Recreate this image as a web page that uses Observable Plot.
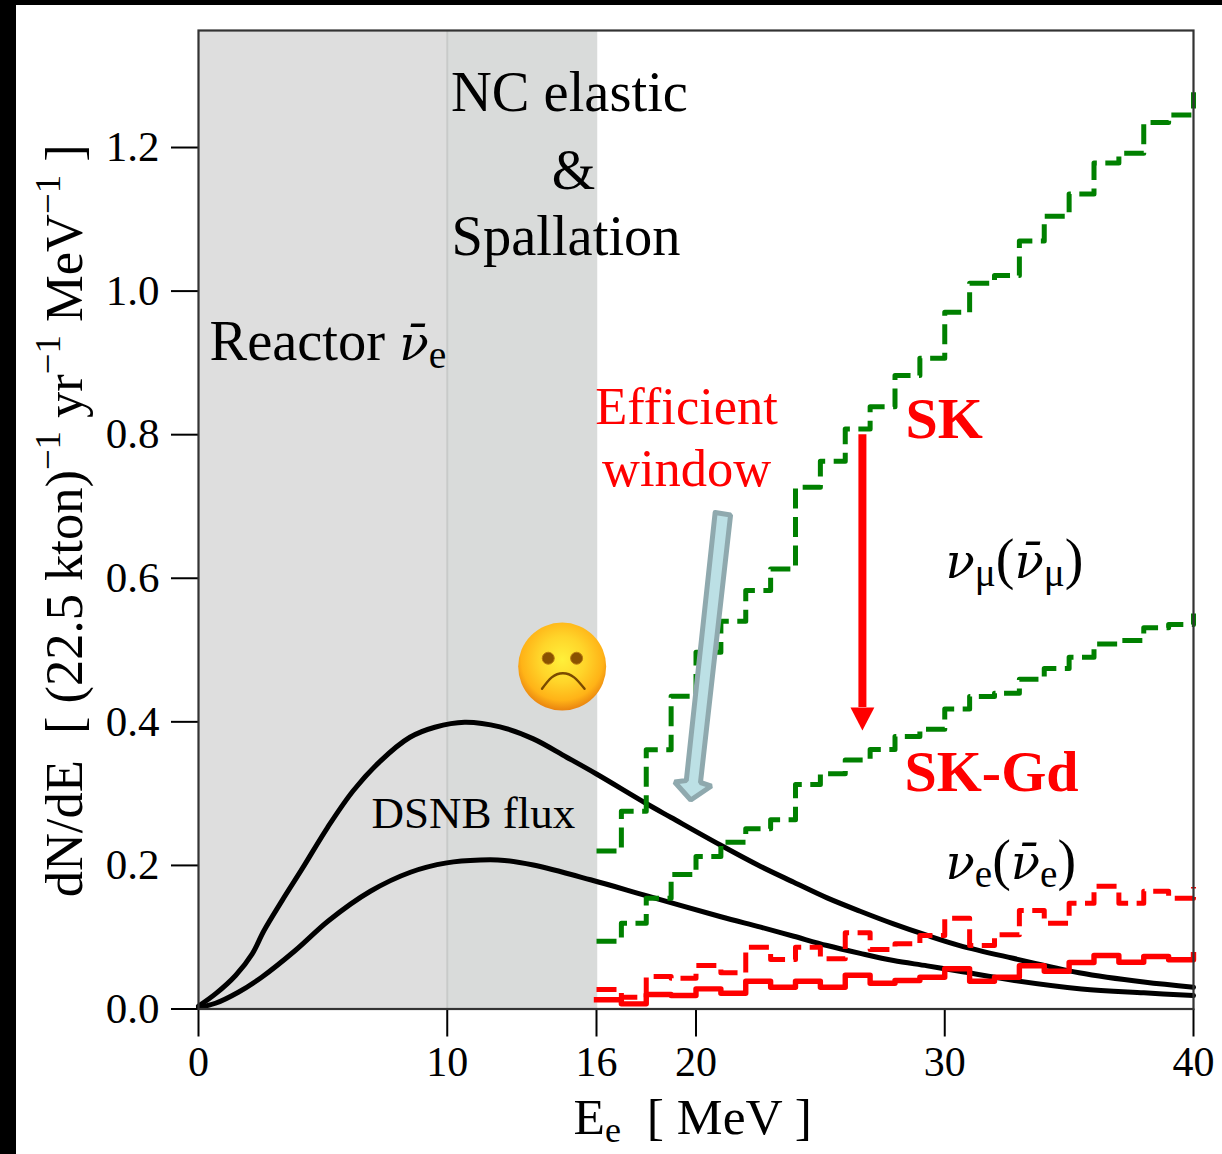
<!DOCTYPE html>
<html>
<head>
<meta charset="utf-8">
<script src="https://cdn.jsdelivr.net/npm/d3@7"></script>
<script src="https://cdn.jsdelivr.net/npm/@observablehq/plot@0.6"></script>
<style>
html,body{margin:0;padding:0;background:#000;}
#wrap{position:absolute;left:16px;top:5px;width:1206px;height:1149px;background:#fff;overflow:hidden;}
svg{display:block;}
</style>
</head>
<body>
<div id="wrap"></div>
<script>
// Bin edges in MeV (1 MeV bins from 16 to 40)
const edges = d3.range(16, 41);
// Event spectra per bin; the last entry is the value just past the final edge
const numuSK = [0.220,0.2755,0.361,0.4357,0.497,0.540,0.583,0.613,0.7268,0.763,0.808,0.839,0.8823,0.9065,0.9705,1.0109,1.0216,1.0699,1.1042,1.1354,1.1786,1.192,1.2347,1.2454,1.277];
const numuGd = [0.0944,0.1195,0.1543,0.1873,0.2124,0.2323,0.2510,0.2635,0.3127,0.3276,0.347,0.3614,0.3795,0.3897,0.418,0.4352,0.4398,0.4594,0.4742,0.49,0.5086,0.5132,0.531,0.5355,0.551];
const nueSK = [0.0272,0.0165,0.0453,0.043,0.0606,0.0504,0.0861,0.0689,0.0861,0.0699,0.1061,0.0829,0.0908,0.1024,0.1265,0.0884,0.1033,0.1372,0.1195,0.1474,0.171,0.1474,0.164,0.1543,0.17];
const nueGd = [0.0128,0.0072,0.0202,0.0188,0.0281,0.022,0.0387,0.0304,0.0387,0.0304,0.0471,0.0359,0.0397,0.0443,0.056,0.0387,0.0443,0.0602,0.0526,0.0648,0.0745,0.0652,0.0731,0.0685,0.0755];

// DSNB flux curves
const fluxHighX = [0,0.68,1.49,2.16,2.63,3.36,4.17,5.2,6.22,7.3,8.5,9.5,10.7,12.12,13.46,14.8,16,18,19,21,22.6,23.93,25.27,26.6,27.94,29.3,30.6,32.7,35.4,38,40];
const fluxHighY = [0.004,0.021,0.0467,0.0769,0.109,0.151,0.1955,0.2535,0.304,0.345,0.3785,0.3925,0.3995,0.393,0.3763,0.3507,0.3273,0.2862,0.2667,0.228,0.1985,0.1766,0.1548,0.1362,0.1186,0.1024,0.0884,0.071,0.0505,0.0375,0.0304];
const fluxLowX = [0,0.68,1.6,2.54,3.89,5.24,6.91,8.52,9.98,11.33,12.3,13.46,15.76,18,21,22.6,23.93,25.27,26.6,27.94,29.3,30.6,32.8,35.5,38,40];
const fluxLowY = [0.002,0.008,0.0234,0.0443,0.0815,0.1233,0.164,0.1905,0.2035,0.2075,0.207,0.2005,0.18,0.158,0.1285,0.114,0.1013,0.0884,0.0775,0.0675,0.0601,0.0525,0.0397,0.028,0.0225,0.0188];

// Axis ticks
const xTicks = [0,10,16,20,30,40];
const yTicks = [0,0.2,0.4,0.6,0.8,1.0,1.2];

// Annotations (markup: {i|italic} {sub|subscript} {sup|superscript})
const labels = [
  {t:"NC elastic", x:10.15, y:1.2514, s:56.5, c:"#000"},
  {t:"&", x:15.08, y:1.142, s:56, c:"#000", a:"middle"},
  {t:"Spallation", x:10.17, y:1.0505, s:56.5, c:"#000"},
  {t:"Reactor {i|ν\u0304}{sub|e}", x:0.44, y:0.9034, s:56.5, c:"#000"},
  {t:"DSNB flux", x:6.95, y:0.2516, s:45, c:"#000"},
  {t:"Efficient", x:19.62, y:0.815, s:52.5, c:"#f00", a:"middle"},
  {t:"window", x:19.62, y:0.728, s:52.5, c:"#f00", a:"middle"},
  {t:"SK", x:28.42, y:0.796, s:58, c:"#f00", w:"bold"},
  {t:"SK-Gd", x:28.38, y:0.304, s:58, c:"#f00", w:"bold"},
  {t:"{i|ν}{sub|μ}({i|ν\u0304}{sub|μ})", x:30.03, y:0.6, s:56, c:"#000"},
  {t:"{i|ν}{sub|e}({i|ν\u0304}{sub|e})", x:30.03, y:0.1812, s:56, c:"#000"},
  {t:"E{sub|e}  [ MeV ]", x:15.08, y:-0.1746, s:51.5, c:"#000"}
];
const yLabel = "dN/dE  [ (22.5 kton){sup|−1} yr{sup|−1} MeV{sup|−1} ]";

// Arrow outlines in chart units
const pointerX = [20.77,21.39,20.18,20.62,19.79,19.14,19.61];
const pointerY = [0.6915,0.688,0.3155,0.3106,0.2911,0.3162,0.3182];
const dropX = 26.69;
const dropHeadX = [26.21,27.17,26.69];
const dropHeadY = [0.42,0.42,0.388];

// Sad face
const faceX = 14.62, faceY = 0.477;
const eyeX = [14.06,15.2], eyeY = 0.4886;
const mouthX = [13.81,14.2,14.65,15.1,15.52];
const mouthY = [0.446,0.462,0.4677,0.462,0.446];

const zip = (xs, ys) => xs.map((x,i)=>({x, y: Array.isArray(ys)?ys[i]:ys}));
const frameTop = 1.363;
const dash = "20,8.5";

const gradient = () => {
  const g = d3.create("svg:g");
  const rg = g.append("defs").append("radialGradient").attr("id","faceGrad")
    .attr("cx","50%").attr("cy","42%").attr("r","58%");
  [["0%","#fff03a"],["45%","#ffd52a"],["80%","#ffb317"],["100%","#e9830f"]].forEach(([o,c])=>
    rg.append("stop").attr("offset",o).attr("stop-color",c));
  return g.node();
};

const stepLine = (ys, stroke, dashed) => Plot.line(zip(edges, ys), {
  x:"x", y:"y", curve:"step-after", stroke, strokeWidth: dashed ? 5 : 5.4,
  strokeDasharray: dashed ? dash : undefined,
  strokeLinecap: dashed ? "butt" : "square", strokeLinejoin:"round"
});

const chart = Plot.plot({
  width:1206, height:1149,
  marginLeft:182, marginRight:29, marginTop:25, marginBottom:145.5,
  style:{fontFamily:"'Liberation Serif', serif", background:"transparent", overflow:"visible"},
  x:{domain:[0,40]},
  y:{domain:[0,frameTop]},
  marks:[
    gradient,
    Plot.rect([{a:0,b:10}],{x1:"a",x2:"b",y1:0,y2:frameTop,fill:"#dedede"}),
    Plot.rect([{a:10,b:16.05}],{x1:"a",x2:"b",y1:0,y2:frameTop,fill:"#d9dbda"}),
    Plot.ruleX([10],{stroke:"#c8cac9",strokeWidth:2}),
    Plot.axisX({ticks:xTicks,tickFormat:d=>String(d),tickSize:28,tickPadding:9,strokeWidth:2,fontSize:42,label:null,stroke:"#000",fill:"#000",fontVariant:"normal"}),
    Plot.axisY({ticks:yTicks,tickFormat:".1f",tickSize:27,tickPadding:12,strokeWidth:2,fontSize:43,label:null,stroke:"#000",fill:"#000",fontVariant:"normal"}),
    Plot.dot([{x:faceX,y:faceY}],{x:"x",y:"y",r:44,fill:"url(#faceGrad)"}),
    Plot.dot(zip(eyeX,eyeY),{x:"x",y:"y",r:6,fill:"#8a5200",stroke:"#b87a10",strokeWidth:1}),
    Plot.line(zip(mouthX,mouthY),{x:"x",y:"y",curve:"natural",stroke:"#7a4a00",strokeWidth:2.4}),
    Plot.line(zip(fluxHighX,fluxHighY),{x:"x",y:"y",curve:"catmull-rom",stroke:"#000",strokeWidth:5}),
    Plot.line(zip(fluxLowX,fluxLowY),{x:"x",y:"y",curve:"catmull-rom",stroke:"#000",strokeWidth:5}),
    stepLine(numuSK,"#008000",true),
    stepLine(numuGd,"#008000",true),
    stepLine(nueSK,"#ff0000",true),
    stepLine(nueGd,"#ff0000",false),
    Plot.line(zip(pointerX,pointerY).concat([{x:pointerX[0],y:pointerY[0]}]),{x:"x",y:"y",fill:"#bce0e5",stroke:"#8fa9ae",strokeWidth:5,strokeLinejoin:"miter"}),
    Plot.ruleX([dropX],{y1:0.42,y2:0.80,stroke:"#f00",strokeWidth:8}),
    Plot.line(zip(dropHeadX,dropHeadY),{x:"x",y:"y",fill:"#f00",stroke:"none"}),
    ...labels.map(l=>Plot.text([l],{x:"x",y:"y",text:"t",fontSize:l.s,fill:l.c,fontWeight:l.w||"normal",textAnchor:l.a||"start",lineAnchor:"bottom",clip:false})),
    Plot.text([{t:yLabel,x:-4.7,y:0.68}],{x:"x",y:"y",text:"t",rotate:-90,fontSize:52.5,fill:"#000",textAnchor:"middle",lineAnchor:"bottom"}),
    Plot.frame({stroke:"#333",strokeWidth:2.2})
  ]
});

// Turn the markup in text nodes into real tspans
chart.querySelectorAll("text").forEach(node=>{
  const raw = node.textContent;
  if(!raw.includes("{")) return;
  const host = node.querySelector("tspan") || node;
  while(host.firstChild) host.removeChild(host.firstChild);
  const base = parseFloat(node.closest("[font-size]")?.getAttribute("font-size")) || 50;
  let shift = 0;
  raw.split(/(\{[a-z]+\|[^}]*\})/).filter(p=>p.length).forEach(p=>{
    const m = p.match(/^\{([a-z]+)\|([^}]*)\}$/);
    const ts = document.createElementNS("http://www.w3.org/2000/svg","tspan");
    ts.style.whiteSpace="pre";
    let target = 0, txt = p;
    if(m){
      txt = m[2];
      if(m[1]==="i"){
        ts.setAttribute("font-style","italic");
        ts.setAttribute("font-family","'DejaVu Serif'");
        ts.setAttribute("font-size",base*0.86);
      }
      if(m[1]==="sub"){ ts.setAttribute("font-size",base*0.7); target = base*0.14; }
      if(m[1]==="sup"){ ts.setAttribute("font-size",base*0.7); target = -base*0.42; }
    }
    if(target!==shift){ ts.setAttribute("dy",target-shift); shift = target; }
    ts.textContent = txt;
    host.appendChild(ts);
  });
});
document.getElementById("wrap").appendChild(chart);
</script>
</body>
</html>
